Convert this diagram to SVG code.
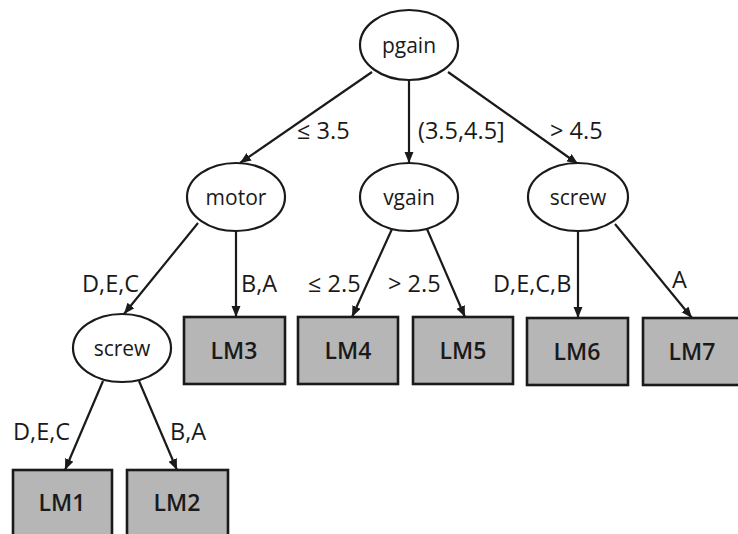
<svg xmlns="http://www.w3.org/2000/svg" width="738" height="534" viewBox="0 0 738 534">
<defs>
<marker id="ah" markerUnits="userSpaceOnUse" markerWidth="12" markerHeight="10" refX="11" refY="4.5" orient="auto">
<path d="M0,0 L11,4.5 L0,9 z" fill="#1a1a1a"/>
</marker>
</defs>
<style>
.node ellipse{fill:#ffffff;stroke:#1a1a1a;stroke-width:2.2}
.leaf rect{fill:#b6b6b6;stroke:#1a1a1a;stroke-width:2.6}
.nt{font-family:"Open Sans","DejaVu Sans",sans-serif;font-size:21px;fill:#1a1a1a;text-anchor:middle}
.lt{font-family:"Open Sans","DejaVu Sans",sans-serif;font-size:23px;font-weight:600;fill:#1a1a1a;text-anchor:middle}
.el{font-family:"Open Sans","DejaVu Sans",sans-serif;font-size:23.5px;fill:#1a1a1a}
#edges line{stroke:#1a1a1a;stroke-width:2.2;marker-end:url(#ah)}
</style>
<rect width="738" height="534" fill="#ffffff"/>
<g id="edges">
<line x1="372" y1="72" x2="240" y2="163"/>
<line x1="409" y1="80" x2="409" y2="163"/>
<line x1="448" y1="72" x2="578" y2="164"/>
<line x1="198" y1="223" x2="124" y2="314"/>
<line x1="236" y1="231" x2="236" y2="317"/>
<line x1="392" y1="229" x2="352" y2="317"/>
<line x1="427" y1="229" x2="465" y2="317"/>
<line x1="578" y1="231" x2="578" y2="318"/>
<line x1="615" y1="224" x2="692" y2="318"/>
<line x1="103" y1="381" x2="65" y2="470"/>
<line x1="139" y1="381" x2="177" y2="470"/>
<text class="el" x="297" y="139">≤ 3.5</text>
<text class="el" x="418" y="139">(3.5,4.5]</text>
<text class="el" x="550" y="139">&gt; 4.5</text>
<text class="el" x="82" y="292">D,E,C</text>
<text class="el" x="241" y="292">B,A</text>
<text class="el" x="308" y="292">≤ 2.5</text>
<text class="el" x="388" y="292">&gt; 2.5</text>
<text class="el" x="493" y="292">D,E,C,B</text>
<text class="el" x="672" y="288">A</text>
<text class="el" x="13" y="440">D,E,C</text>
<text class="el" x="170" y="440">B,A</text>
</g>
<g id="pgain" class="node"><ellipse cx="409" cy="45" rx="49" ry="35"/><text class="nt" x="409" y="53">pgain</text></g>
<g id="motor" class="node"><ellipse cx="236" cy="197" rx="49" ry="34"/><text class="nt" x="236" y="205">motor</text></g>
<g id="vgain" class="node"><ellipse cx="409" cy="197" rx="49" ry="34"/><text class="nt" x="409" y="205">vgain</text></g>
<g id="screw2" class="node"><ellipse cx="578" cy="197" rx="50" ry="34"/><text class="nt" x="578" y="205">screw</text></g>
<g id="screw1" class="node"><ellipse cx="122" cy="348" rx="49" ry="34"/><text class="nt" x="122" y="356">screw</text></g>
<g id="LM1" class="leaf"><rect x="13" y="470" width="99" height="66"/><text class="lt" x="62" y="511">LM1</text></g>
<g id="LM2" class="leaf"><rect x="127" y="470" width="101" height="66"/><text class="lt" x="177" y="511">LM2</text></g>
<g id="LM3" class="leaf"><rect x="184" y="317" width="101" height="67"/><text class="lt" x="234" y="359">LM3</text></g>
<g id="LM4" class="leaf"><rect x="298" y="317" width="100" height="67"/><text class="lt" x="348" y="359">LM4</text></g>
<g id="LM5" class="leaf"><rect x="413" y="317" width="100" height="67"/><text class="lt" x="463" y="359">LM5</text></g>
<g id="LM6" class="leaf"><rect x="527" y="318" width="101" height="67"/><text class="lt" x="577" y="360">LM6</text></g>
<g id="LM7" class="leaf"><rect x="643" y="318" width="100" height="67"/><text class="lt" x="692" y="360">LM7</text></g>
</svg>
